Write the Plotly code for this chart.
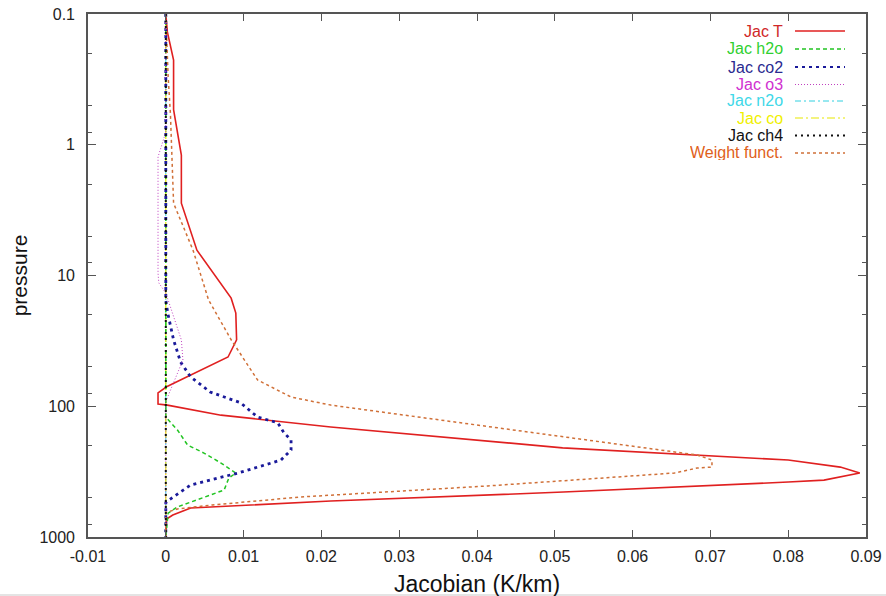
import plotly.graph_objects as go

# ---------------- data ----------------
names = ["Jac T", "Jac h2o", "Jac co2", "Jac o3", "Jac n2o", "Jac co", "Jac ch4", "Weight funct."]

p_T = [0.1, 0.137, 0.225, 0.54, 1.2, 2.8, 6.4, 14.9, 19.4, 31, 42, 71, 79, 96, 98, 117, 144,
       208, 258, 292, 324, 367, 380, 453, 531, 600, 679, 728, 1000]
jac_T = [0, 0.0002, 0.001, 0.001, 0.002, 0.002, 0.004, 0.0084, 0.009, 0.0091, 0.008, 0.0001,
         -0.001, -0.001, 0.0002, 0.0071, 0.0212, 0.051, 0.08, 0.0867, 0.0892, 0.0846, 0.08,
         0.0511, 0.0212, 0.0032, 0.0009, 0.0001, 0]

p_h2o = [0.1, 121, 152, 198, 228, 272, 324, 354, 437, 521, 589, 656, 1000]
jac_h2o = [0, 0, 0.0015, 0.0028, 0.0049, 0.0071, 0.009, 0.0081, 0.0075, 0.0041, 0.0015, 0.0003, 0]

p_co2 = [0.1, 15.4, 19.4, 31.1, 45.9, 59.7, 77.8, 94, 121, 134, 160, 181, 216, 258, 324, 400,
         521, 547, 1000]
jac_co2 = [0, 0, 0.00025, 0.001, 0.0019, 0.0032, 0.0057, 0.0096, 0.0118, 0.0144, 0.0152,
           0.0161, 0.0161, 0.0148, 0.0093, 0.0032, 0.0004, 0, 0]

p_o3 = [0.1, 0.8, 1.24, 9.6, 11.4, 13.6, 15.4, 31.1, 44.3, 66.4, 85, 92, 1000]
jac_o3 = [0, 0, -0.001, -0.001, -0.0009, 0, 0.0003, 0.002, 0.0022, 0.001, 0.0003, 0, 0]

p_n2o = [0.1, 1000]
jac_n2o = [0, 0]
p_co = [0.1, 1000]
jac_co = [0, 0]
p_ch4 = [0.1, 1000]
jac_ch4 = [0, 0]

p_wf = [0.1, 0.3, 0.59, 2.8, 6.4, 15.4, 31, 63, 85, 98, 236, 258, 292, 297, 324, 407, 494,
        569, 610, 650, 1000]
wf = [0, 0.0003, 0.0006, 0.001, 0.0035, 0.0055, 0.0084, 0.0118, 0.0161, 0.0212, 0.0683,
      0.0702, 0.0702, 0.0683, 0.0654, 0.0414, 0.0174, 0.006, 0.0015, 0.0, 0]

x_ticks = [-0.01, 0, 0.01, 0.02, 0.03, 0.04, 0.05, 0.06, 0.07, 0.08, 0.09]
x_ticktext = ["-0.01", "0", "0.01", "0.02", "0.03", "0.04", "0.05", "0.06", "0.07", "0.08", "0.09"]
y_ticks = [0.1, 1, 10, 100, 1000]
y_ticktext = ["0.1", "1", "10", "100", "1000"]
minor_factors = [2, 5, 8]

# ---------------- styles ----------------
xs = [jac_T, jac_h2o, jac_co2, jac_o3, jac_n2o, jac_co, jac_ch4, wf]
ps = [p_T, p_h2o, p_co2, p_o3, p_n2o, p_co, p_ch4, p_wf]
line_colors = ["#e02020", "#22c422", "#1a1a9a", "#c040c0", "#30d0e0", "#e8e800", "#111111", "#d07038"]
text_colors = ["#d02828", "#30d030", "#2a2a90", "#d030d0", "#40d8e8", "#f0f000", "#111111", "#e0601a"]
dashes = ["solid", "4px,3px", "3px,4px", "1px,2px", "6px,3px,2px,3px", "8px,3px,2px,3px", "2px,4px", "3px,3px"]
widths = [1.6, 1.5, 2.8, 1, 1, 1.2, 2, 1.5]

fig = go.Figure()
for i in [4, 5, 0, 1, 2, 3, 7, 6]:
    fig.add_trace(go.Scatter(
        x=xs[i], y=ps[i], mode="lines", name=names[i], showlegend=False,
        line=dict(color=line_colors[i], dash=dashes[i], width=widths[i]),
    ))

# plot-area pixel geometry (for legend placement)
L, R, T, B = 88, 866, 14, 537
def px(xp):
    return (xp - L) / (R - L)
def py(yp):
    return (B - yp) / (B - T)

leg_rows = [31, 49, 67, 84.5, 101, 118, 135.5, 153]
annotations = []
shapes = []
for i, yr in enumerate(leg_rows):
    annotations.append(dict(
        x=px(784), y=py(yr), xref="paper", yref="paper", xanchor="right", yanchor="middle",
        text=names[i], showarrow=False, height=15, borderpad=0,
        font=dict(family="Liberation Sans, Arial", size=16, color=text_colors[i]),
    ))
    shapes.append(dict(
        type="line", xref="paper", yref="paper", x0=px(795), x1=px(845), y0=py(yr), y1=py(yr),
        line=dict(color=line_colors[i], dash=dashes[i], width=min(widths[i], 2)),
    ))

# x-axis title (partly cut by the bottom edge, as in the reference)
annotations.append(dict(
    x=0.5, y=py(569), xref="paper", yref="paper", xanchor="center", yanchor="top",
    text="Jacobian (K/km)", showarrow=False,
    font=dict(family="Liberation Sans, Arial", size=23, color="#111111"),
))

# thin grey strip at bottom of picture
shapes.append(dict(type="rect", xref="paper", yref="paper", x0=-0.2, x1=1.1,
                   y0=py(600), y1=py(594), fillcolor="#e4e4e4", line=dict(width=0), layer="above"))

minor_vals = [f * 10 ** e for e in [-1, 0, 1, 2] for f in minor_factors]

axis_font = dict(family="Liberation Sans, Arial", size=16, color="#222222")
fig.update_layout(
    width=886, height=596, autosize=False,
    margin=dict(l=L, r=886 - R, t=T, b=596 - B),
    paper_bgcolor="white", plot_bgcolor="white",
    annotations=annotations, shapes=shapes,
    xaxis=dict(
        range=[-0.01, 0.09], tickvals=x_ticks, ticktext=x_ticktext, automargin=False,
        ticks="inside", ticklen=7, tickwidth=1.2, tickcolor="#555555",
        showline=True, linecolor="#555555", linewidth=1.6, mirror="ticks",
        showgrid=False, zeroline=False, tickfont=axis_font, ticklabelstandoff=4,
    ),
    yaxis=dict(
        type="log", range=[3, -1], tickvals=y_ticks, ticktext=y_ticktext, automargin=False,
        ticks="inside", ticklen=8, tickwidth=1.2, tickcolor="#555555",
        minor=dict(tickmode="array", tickvals=minor_vals, ticks="inside", ticklen=4,
                   tickcolor="#555555", tickwidth=1, showgrid=False),
        showline=True, linecolor="#555555", linewidth=1.6, mirror="ticks",
        showgrid=False, zeroline=False, tickfont=axis_font, ticklabelstandoff=8,
        title=dict(text="pressure", font=dict(family="Liberation Sans, Arial", size=21, color="#111111"),
                   standoff=6),
    ),
)

fig.write_html("out.html")
